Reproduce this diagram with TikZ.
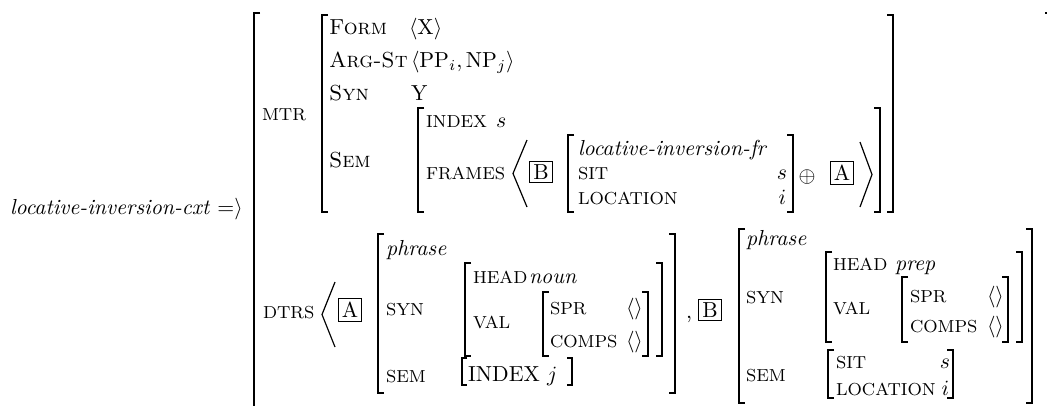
\documentclass[tikz,border=0pt]{standalone}
% square brackets of an attribute-value matrix: x, top y, bottom y
\newcommand\avmbrackL[3]{\draw[brk] (#1+6,#2) -- (#1,#2) -- (#1,#3) -- (#1+6,#3);}
\newcommand\avmbrackR[3]{\draw[brk] (#1-6,#2) -- (#1,#2) -- (#1,#3) -- (#1-6,#3);}
\begin{document}
\begin{tikzpicture}[x=0.46pt, y=-0.46pt,
  every node/.style={inner sep=0pt, outer sep=0pt},
  topfeat/.style={anchor=base west, font=\scshape},
  feat/.style={anchor=base west, font=\footnotesize},
  val/.style={anchor=base west},
  rval/.style={anchor=base east},
  tag/.style={draw, line width=0.4pt, inner sep=1.6pt, anchor=center},
  brk/.style={line width=0.55pt},
  ang/.style={line width=0.55pt}]
\useasboundingbox (0,0) rectangle (1047,405);

% type name
\node[val] (cxt) at (10,214) {\textit{locative-inversion-cxt} $=\rangle$};

% outermost matrix
\avmbrackL{254}{13}{425}
\avmbrackR{1051}{13}{425}

% ---------- MTR ----------
\node[feat] (mtr) at (262,120) {MTR};
\avmbrackL{322}{15}{212}
\avmbrackR{893}{15}{212}
\node[topfeat] (form) at (329,34) {Form};
\node[val] (formv) at (409,34) {$\langle\mathrm{X}\rangle$};
\node[topfeat] (argst) at (329,67) {Arg-St};
\node[val] (argstv) at (411,67) {$\langle\mathrm{PP}_i,\mathrm{NP}_j\rangle$};
\node[topfeat] (syn) at (329,100) {Syn};
\node[val] (synv) at (411,100) {Y};
\node[topfeat] (sem) at (329,167) {Sem};

% SEM value
\avmbrackL{418}{108}{212}
\avmbrackR{880}{108}{212}
\node[feat] (index) at (426,127) {INDEX};
\node[val] (indexv) at (496,127) {$s$};
\node[feat] (frames) at (426,179) {FRAMES};
\draw[ang] (527,140) -- (513,173.5) -- (527,207);
\node[tag] (tagB1) at (541,172) {B};
\avmbrackL{568}{135}{212}
\avmbrackR{793}{135}{212}
\node[val] (frtype) at (578,155) {\textit{locative-inversion-fr}};
\node[feat] (sit) at (578,179) {SIT};
\node[rval] (sitv) at (787,179) {$s$};
\node[feat] (loc) at (578,204) {LOCATION};
\node[rval] (locv) at (786,204) {$i$};
\node[anchor=center] (oplus) at (807,177) {$\oplus$};
\node[tag] (tagA1) at (842,173) {A};
\draw[ang] (860,142) -- (872,174.5) -- (860,207);

% ---------- DTRS ----------
\node[feat] (dtrs) at (263,318) {DTRS};
\draw[ang] (335,282) -- (322,314.5) -- (335,347);
\node[tag] (tagA2) at (350,310) {A};

% first daughter
\avmbrackL{378}{234}{393}
\avmbrackR{675}{234}{393}
\node[val] (phrA) at (386,255) {\textit{phrase}};
\node[feat] (synA) at (386,315) {SYN};
\node[feat] (semA) at (386,382) {SEM};
\avmbrackL{465}{263}{356}
\avmbrackR{662}{263}{356}
\node[feat] (headA) at (473,283) {HEAD};
\node[val] (headAv) at (529,283) {\textit{noun}};
\node[feat] (valA) at (473,328) {VAL};
\avmbrackL{543}{292}{356}
\avmbrackR{648}{292}{356}
\node[feat] (sprA) at (550,314) {SPR};
\node[val] (sprAv) at (626,314) {$\langle\rangle$};
\node[feat] (compsA) at (550,347) {COMPS};
\node[val] (compsAv) at (626,347) {$\langle\rangle$};
\draw[brk] (467,358) -- (462,358) -- (462,385) -- (467,385);
\draw[brk] (567,358) -- (572,358) -- (572,385) -- (567,385);
\node[val] (semAv) at (468,381) {INDEX $j$};

\node[val] (comma) at (686,318) {,};
\node[tag] (tagB2) at (710,310) {B};

% second daughter
\avmbrackL{739}{229}{403}
\avmbrackR{1032}{229}{403}
\node[val] (phrB) at (746,245) {\textit{phrase}};
\node[feat] (synB) at (746,303) {SYN};
\node[feat] (semB) at (746,381) {SEM};
\avmbrackL{826}{252}{342}
\avmbrackR{1022}{252}{342}
\node[feat] (headB) at (833,270) {HEAD};
\node[val] (headBv) at (895,270) {\textit{prep}};
\node[feat] (valB) at (833,314) {VAL};
\avmbrackL{902}{277}{342}
\avmbrackR{1008}{277}{342}
\node[feat] (sprB) at (910,302) {SPR};
\node[val] (sprBv) at (987,302) {$\langle\rangle$};
\node[feat] (compsB) at (910,332) {COMPS};
\node[val] (compsBv) at (987,332) {$\langle\rangle$};
\avmbrackL{828}{350}{398}
\avmbrackR{953}{350}{398}
\node[feat] (sitB) at (836,368) {SIT};
\node[rval] (sitBv) at (950,368) {$s$};
\node[feat] (locB) at (836,395) {LOCATION};
\node[rval] (locBv) at (949,395) {$i$};
\end{tikzpicture}
\end{document}
